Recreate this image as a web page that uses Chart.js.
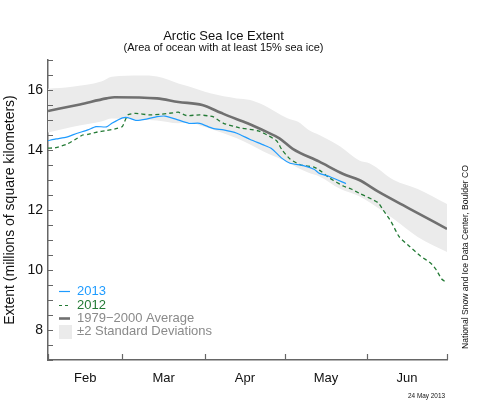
<!DOCTYPE html>
<html>
<head>
<meta charset="utf-8">
<script src="https://cdn.jsdelivr.net/npm/chart.js@4"></script>
<style>
html,body{margin:0;padding:0;background:#fff;}
#wrap{width:500px;height:400px;position:relative;}
</style>
</head>
<body>
<div id="wrap"><canvas id="c" width="500" height="400"></canvas></div>
<script>
// ---- data (day 0 = Feb 1) ----
const monthNames = ['Feb','Mar','Apr','May','Jun'];
const monthLabelDays = [14, 43.5, 74, 104.5, 135];
const monthBoundaryDays = [0, 28, 59, 89, 120, 150];
const yLabelValues = [8, 10, 12, 14, 16];

const days2013 = [0,3,7,11,15,18,22,24,28,30,33,37,41,44,48,53,57,62,66,71,76,81,84,88,91,96,100,102,106,112];
const vals2013 = [14.31,14.37,14.43,14.56,14.67,14.78,14.77,14.89,15.07,15.08,14.99,15.03,15.11,15.13,15.03,14.89,14.89,14.72,14.67,14.56,14.35,14.17,14.05,13.72,13.56,13.48,13.36,13.22,13.11,12.88];

const days2012 = [0,3,7,11,13,15,18,22,26,28,30,33,38,42,47,49,52,57,60,62,66,72,79,83,86,88,91,95,100,102,106,111,114,117,124,126,129,132,136,140,144,146,148,150];
const vals2012 = [14.06,14.08,14.19,14.39,14.5,14.52,14.59,14.65,14.72,14.79,15.17,15.22,15.17,15.19,15.24,15.26,15.15,15.17,15.14,15.11,14.89,14.74,14.64,14.47,14.3,14.0,13.7,13.5,13.43,13.33,13.06,12.8,12.7,12.56,12.25,12.0,11.61,11.11,10.78,10.47,10.22,10.0,9.7,9.57];

const avgDays = [0,12,22,25,41,49,58,65,68,75,82,87,92,102,111,117,124,136,150];
const avgVals = [15.30,15.52,15.72,15.76,15.72,15.60,15.50,15.24,15.13,14.89,14.61,14.39,14.04,13.61,13.20,13.00,12.62,12.04,11.37];

const bandDays  = [0,9,20,24,35,41,49,53,57,61,71,76,81,90,94,98,102,110,117,121,130,139,150];
const bandUpper = [16.04,16.11,16.28,16.44,16.48,16.45,16.22,16.12,16.0,15.89,15.72,15.67,15.5,15.06,14.94,14.67,14.5,14.11,13.65,13.55,13.0,12.7,12.2];
const bandLower = [14.58,14.77,14.95,15.05,15.02,14.98,14.89,14.93,14.82,14.71,14.39,14.18,13.95,13.6,13.4,13.24,13.12,12.7,12.46,12.25,11.7,11.1,10.6];

const legendLabels = ['2013','2012','1979\u22122000 Average','\u00b12 Standard Deviations'];
const titleText = 'Arctic Sea Ice Extent';
const subtitleText = '(Area of ocean with at least 15% sea ice)';
const yTitleText = 'Extent (millions of square kilometers)';
const creditText = 'National Snow and Ice Data Center, Boulder CO';
const dateText = '24 May 2013';

// ---- styles ----
const FONT = "'Liberation Sans', Arial, Helvetica, sans-serif";
const C2013 = '#1e9bff';
const C2012 = '#237a35';
const CAVG = '#707070';
const CBAND = '#ebebeb';
const CAXIS = '#666666';
const CTEXTGRAY = '#8a8a8a';

const pts = (xs, ys) => xs.map((x, i) => ({x: x, y: ys[i]}));

const extras = {
  id: 'extras',
  afterDraw(chart) {
    const ctx = chart.ctx;
    const xs = chart.scales.x, ys = chart.scales.y;
    const area = chart.chartArea;
    ctx.save();
    // inward tick marks
    ctx.strokeStyle = CAXIS;
    ctx.lineWidth = 1.2;
    ctx.beginPath();
    monthBoundaryDays.forEach(d => {
      const px = Math.round(xs.getPixelForValue(d)) + 0.5;
      ctx.moveTo(px, area.bottom);
      ctx.lineTo(px, area.bottom - 6);
    });
    for (let v = ys.min; v <= ys.max + 1e-9; v += 0.5) {
      const py = Math.round(ys.getPixelForValue(v)) + 0.5;
      ctx.moveTo(area.left, py);
      ctx.lineTo(area.left + 5, py);
    }
    ctx.stroke();

    // legend
    const lx0 = 59, lx1 = 70, tx = 77;
    const rows = [291.5, 305.5, 318.5, 331.5];
    ctx.font = '13px ' + FONT;
    ctx.textBaseline = 'middle';
    ctx.textAlign = 'left';
    // 2013
    ctx.strokeStyle = C2013; ctx.lineWidth = 1.2; ctx.setLineDash([]);
    ctx.beginPath(); ctx.moveTo(lx0, rows[0]); ctx.lineTo(lx1, rows[0]); ctx.stroke();
    ctx.fillStyle = C2013; ctx.fillText(legendLabels[0], tx, rows[0]);
    // 2012
    ctx.strokeStyle = C2012; ctx.lineWidth = 1.2; ctx.setLineDash([3, 3]);
    ctx.beginPath(); ctx.moveTo(lx0, rows[1]); ctx.lineTo(lx1 + 1, rows[1]); ctx.stroke();
    ctx.setLineDash([]);
    ctx.fillStyle = C2012; ctx.fillText(legendLabels[1], tx, rows[1]);
    // avg
    ctx.strokeStyle = CAVG; ctx.lineWidth = 2.6;
    ctx.beginPath(); ctx.moveTo(lx0, rows[2]); ctx.lineTo(lx1, rows[2]); ctx.stroke();
    ctx.fillStyle = CTEXTGRAY; ctx.fillText(legendLabels[2], tx, rows[2]);
    // band
    ctx.fillStyle = CBAND; ctx.fillRect(lx0, 325, 13, 14);
    ctx.fillStyle = CTEXTGRAY; ctx.fillText(legendLabels[3], tx, rows[3]);

    // credit (rotated)
    ctx.save();
    ctx.translate(466, 257);
    ctx.rotate(-Math.PI / 2);
    ctx.font = '8.6px ' + FONT;
    ctx.fillStyle = '#111';
    ctx.textAlign = 'center';
    ctx.textBaseline = 'middle';
    ctx.fillText(creditText, 0, 0);
    ctx.restore();

    // date
    ctx.font = '6.4px ' + FONT;
    ctx.fillStyle = '#111';
    ctx.textAlign = 'right';
    ctx.textBaseline = 'middle';
    ctx.fillText(dateText, 445, 396.5);
    ctx.restore();
  }
};

new Chart(document.getElementById('c'), {
  type: 'line',
  data: {
    datasets: [
      { label: '2013', data: pts(days2013, vals2013), borderColor: C2013, borderWidth: 1.2, pointRadius: 0, fill: false, tension: 0.2 },
      { label: '2012', data: pts(days2012, vals2012), borderColor: C2012, borderWidth: 1.3, borderDash: [4, 3], pointRadius: 0, fill: false, tension: 0.2 },
      { label: 'avg', data: pts(avgDays, avgVals), borderColor: CAVG, borderWidth: 2.6, pointRadius: 0, fill: false, cubicInterpolationMode: 'monotone' },
      { label: 'upper', data: pts(bandDays, bandUpper), borderWidth: 0, borderColor: 'rgba(0,0,0,0)', backgroundColor: CBAND, pointRadius: 0, fill: '+1', cubicInterpolationMode: 'monotone' },
      { label: 'lower', data: pts(bandDays, bandLower), borderWidth: 0, borderColor: 'rgba(0,0,0,0)', pointRadius: 0, fill: false, cubicInterpolationMode: 'monotone' }
    ]
  },
  options: {
    responsive: false,
    animation: false,
    events: [],
    layout: { padding: { top: 0, right: 53, bottom: 0, left: 0 } },
    plugins: {
      legend: { display: false },
      tooltip: { enabled: false },
      title: { display: true, text: titleText, color: '#111', font: { family: FONT, size: 13, weight: 'normal', lineHeight: 1.0 }, padding: { top: 29.5, bottom: 0 } },
      subtitle: { display: true, text: subtitleText, color: '#111', font: { family: FONT, size: 11, weight: 'normal', lineHeight: 1.0 }, padding: { top: 0, bottom: 6.5 } }
    },
    scales: {
      x: {
        type: 'linear', min: 0, max: 150,
        afterBuildTicks: s => { s.ticks = monthLabelDays.map(v => ({ value: v })); },
        afterFit: s => { s.height = 40; },
        ticks: { autoSkip: false, maxRotation: 0, padding: 11, color: '#111', font: { family: FONT, size: 13 },
                 callback: (v, i) => monthNames[i] },
        grid: { display: false, drawTicks: false },
        border: { display: true, color: CAXIS, width: 1.5 }
      },
      y: {
        type: 'linear', min: 7, max: 17,
        afterBuildTicks: s => { s.ticks = yLabelValues.map(v => ({ value: v })); },
        afterFit: s => { s.width = 48; },
        ticks: { padding: 5, color: '#111', font: { family: FONT, size: 14 } },
        grid: { display: false, drawTicks: false },
        border: { display: true, color: CAXIS, width: 1.5 },
        title: { display: true, text: yTitleText, color: '#111', font: { family: FONT, size: 14 }, padding: { top: 2, bottom: 0 } }
      }
    }
  },
  plugins: [extras]
});
</script>
</body>
</html>
